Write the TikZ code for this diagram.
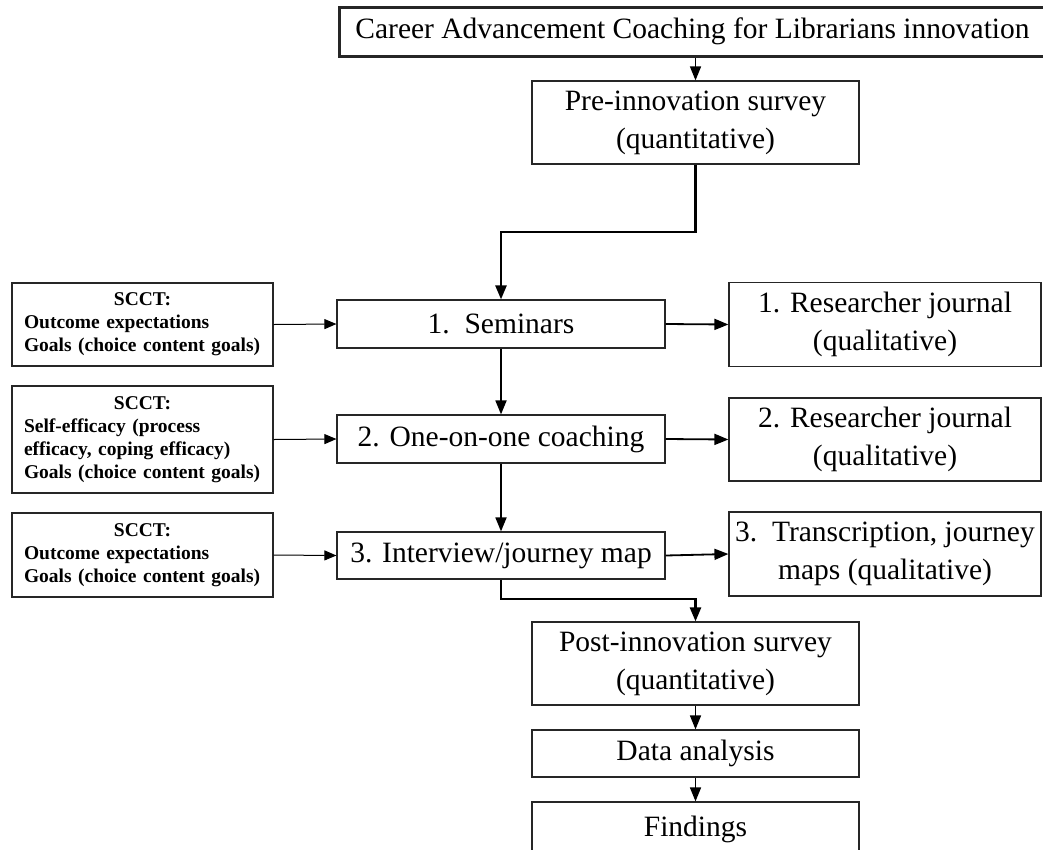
\documentclass[tikz,border=0pt]{standalone}
\usepackage{fontspec}
\setmainfont{Liberation Serif}
\usetikzlibrary{arrows.meta}
\tikzset{
  box/.style={draw=black!85, line width=1.2pt, inner sep=0pt, align=center,
    font=\fontsize{29.5}{38}\selectfont},
  sbox/.style={draw=black!85, line width=1.2pt, inner xsep=12pt, inner ysep=0pt,
    text width=237pt, align=left, minimum width=261pt,
    font=\fontsize{19.5}{23}\selectfont\bfseries},
  arr/.style={-{Triangle[length=14pt,width=11pt]}, line width=1.8pt},
  thinarr/.style={-{Triangle[length=12pt,width=10pt]}, line width=1pt},
}
\begin{document}
\begin{tikzpicture}[x=1pt,y=-1pt]
\useasboundingbox (0,0) rectangle (1043,849);
\fill[white] (0,0) rectangle (1043,849);

\node[box, line width=3pt, minimum width=707pt, minimum height=49pt] (top) at (692.5,31.5)
  {Career Advancement Coaching for Librarians innovation};
\node[box, minimum width=327pt, minimum height=83pt] (pre) at (695.5,122.5)
  {Pre-innovation survey\\(quantitative)};

\node[box, minimum width=328pt, minimum height=48pt] (sem) at (501,324) {1.\ \ Seminars};
\node[box, minimum width=328pt, minimum height=48pt] (one) at (501,439) {2. One-on-one coaching};
\node[box, minimum width=328pt, minimum height=47pt] (intv) at (501,555.5) {3. Interview/journey map};

\node[box, minimum width=312pt, minimum height=84pt] (rj1) at (885,324.5) {1. Researcher journal\\(qualitative)};
\node[box, minimum width=312pt, minimum height=83pt] (rj2) at (885,439.5) {2. Researcher journal\\(qualitative)};
\node[box, minimum width=312pt, minimum height=84pt] (tr) at (885,554) {3.\ \ Transcription, journey\\maps (qualitative)};

\node[sbox, minimum height=83pt] (s1) at (142.5,324.5)
  {\makebox[\linewidth]{SCCT:}\\Outcome expectations\\Goals (choice content goals)};
\node[sbox, minimum height=107pt] (s2) at (142.5,439.5)
  {\makebox[\linewidth]{SCCT:}\\Self-efficacy (process\\efficacy, coping efficacy)\\Goals (choice content goals)};
\node[sbox, minimum height=84pt] (s3) at (142.5,555)
  {\makebox[\linewidth]{SCCT:}\\Outcome expectations\\Goals (choice content goals)};

\node[box, minimum width=327pt, minimum height=83pt] (post) at (695.5,663.5)
  {Post-innovation survey\\(quantitative)};
\node[box, minimum width=327pt, minimum height=47pt] (data) at (695.5,753.5) {Data analysis};
\node[box, minimum width=327pt, minimum height=54pt] (find) at (695.5,829) {Findings};

\coordinate (j1) at (501,232);
\coordinate (j2) at (501,599);

\draw[arr, line width=1.5pt] (pre.north |- top.south) -- (pre.north);
\draw[arr, line width=2.5pt] (pre.south) |- (j1) -- (sem.north);
\draw[arr] (sem.south) -- (one.north);
\draw[arr] (one.south) -- (intv.north);
\draw[thinarr] (s1.east) -- (sem.west);
\draw[thinarr] (s2.east) -- (one.west);
\draw[thinarr] (s3.east) -- (intv.west);
\draw[arr] (sem.east) -- (rj1.west);
\draw[arr] (one.east) -- (rj2.west);
\draw[arr] (intv.east) -- (tr.west);
\draw[arr, line width=2.5pt] (intv.south) -- (j2) -| (post.north);
\draw[arr, line width=1.5pt] (post.south) -- (data.north);
\draw[arr, line width=1.5pt] (data.south) -- (find.north);
\end{tikzpicture}
\end{document}
